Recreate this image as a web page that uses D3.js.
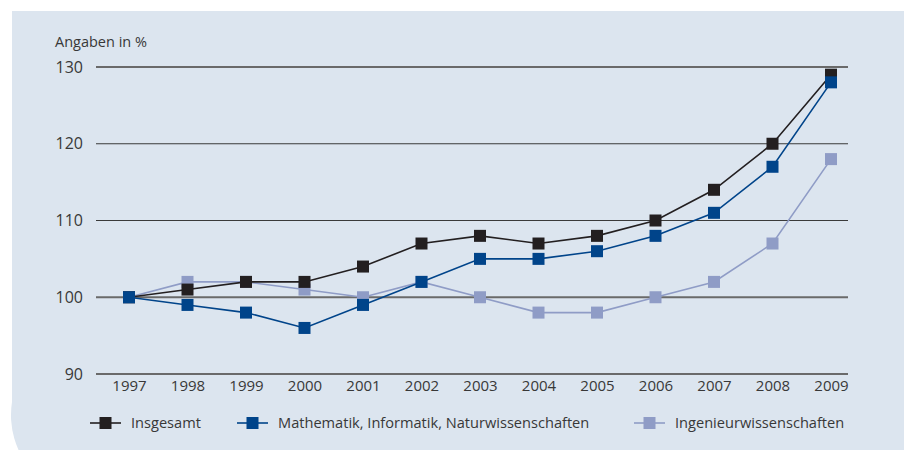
<!DOCTYPE html>
<html><head><meta charset="utf-8">
<script src="https://cdn.jsdelivr.net/npm/d3@7"></script>
<style>body{margin:0;background:#fff}svg{display:block}text{font-family:"Open Sans",sans-serif;fill:#383838;font-weight:400}</style>
</head><body><svg id="c" width="904" height="450"></svg>
<script>
const years = [1997,1998,1999,2000,2001,2002,2003,2004,2005,2006,2007,2008,2009];
const insgesamt = [100,101,102,102,104,107,108,107,108,110,114,120,129];
const mint = [100,99,98,96,99,102,105,105,106,108,111,117,128];
const ingenieur = [100,102,102,101,100,102,100,98,98,100,102,107,118];
const yTicks = [90,100,110,120,130];
const seriesNames = ["Insgesamt","Mathematik, Informatik, Naturwissenschaften","Ingenieurwissenschaften"];
const colors = ["#231f20","#00448a","#8f9cc6"];
const unitLabel = "Angaben in %";

const svg = d3.select("#c");
const R = 85, yc = 402;
svg.append("path")
  .attr("d", `M12,11 H904 V500 H${12+R} A${R},${R} 0 0 1 12,${yc} Z`)
  .attr("fill","#dce5ef");

const x = d3.scalePoint().domain(years).range([129,831]);
const y = d3.scaleLinear().domain([90,130]).range([374,67]);

svg.append("g").selectAll("line").data(yTicks).join("line")
  .attr("x1",96).attr("x2",848)
  .attr("y1",d=>y(d)).attr("y2",d=>y(d))
  .attr("stroke",d=>(d===130||d===100||d===90)?"#6a6a6a":"#3a3a3a")
  .attr("stroke-width",d=>(d===130||d===100||d===90)?1.8:1.2);

const yAxis = d3.axisLeft(y).tickValues(yTicks).tickSize(0).tickPadding(0);
const gy = svg.append("g").attr("transform","translate(83,0)").call(yAxis);
gy.select(".domain").remove();
gy.selectAll("text").style("font-size","16px").attr("fill","#383838").attr("font-family","Open Sans, sans-serif").style("font-weight","400");

const xAxis = d3.axisBottom(x).tickSize(0).tickPadding(0).tickFormat(d3.format("d"));
const gx = svg.append("g").attr("transform","translate(0,380)").call(xAxis);
gx.select(".domain").remove();
gx.selectAll("text").style("font-size","15px").attr("fill","#383838").attr("font-family","Open Sans, sans-serif");

svg.append("text").attr("x",55).attr("y",47).style("font-size","14.5px").text(unitLabel);

const data = [insgesamt, mint, ingenieur];
const order = [2,0,1];
const line = d3.line().x((d,i)=>x(years[i])).y(d=>y(d));
const ms = 12;
order.forEach(k=>{
  const g = svg.append("g");
  g.append("path").datum(data[k]).attr("d",line).attr("fill","none")
    .attr("stroke",colors[k]).attr("stroke-width",1.6);
  g.selectAll("rect").data(data[k]).join("rect")
    .attr("x",(d,i)=>x(years[i])-ms/2).attr("y",d=>y(d)-ms/2)
    .attr("width",ms).attr("height",ms).attr("fill",colors[k]);
});

const legX = [90,237,634];
const leg = svg.append("g");
seriesNames.forEach((n,k)=>{
  const lx = legX[k], ly = 423;
  leg.append("line").attr("x1",lx).attr("x2",lx+31).attr("y1",ly).attr("y2",ly)
    .attr("stroke",colors[k]).attr("stroke-width",1.6);
  leg.append("rect").attr("x",lx+15.5-ms/2).attr("y",ly-ms/2).attr("width",ms).attr("height",ms).attr("fill",colors[k]);
  leg.append("text").attr("x",lx+41).attr("y",ly+5).style("font-size","14.6px").text(n);
});
</script></body></html>
